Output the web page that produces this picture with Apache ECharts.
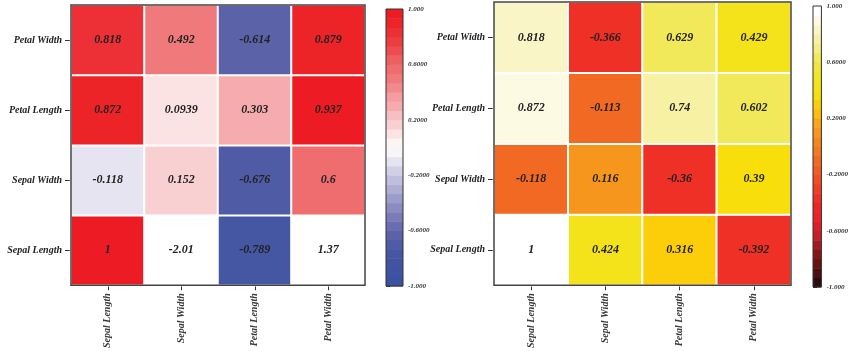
<!DOCTYPE html>
<html>
<head>
<meta charset="utf-8">
<script src="https://cdn.jsdelivr.net/npm/echarts@6/dist/echarts.min.js"></script>
<style>
  html, body { margin: 0; padding: 0; background: #fff; }
  #chart { width: 851px; height: 351px; }
</style>
</head>
<body>
<div id="chart"></div>
<script>
// Feature names (x: left to right, y: bottom to top)
const features = ['Sepal Length', 'Sepal Width', 'Petal Length', 'Petal Width'];

// Left matrix, one array per row
const leftSepalLength = [1, -2.01, -0.789, 1.37];
const leftSepalWidth  = [-0.118, 0.152, -0.676, 0.6];
const leftPetalLength = [0.872, 0.0939, 0.303, 0.937];
const leftPetalWidth  = [0.818, 0.492, -0.614, 0.879];

// Right matrix, one array per row
const rightSepalLength = [1, 0.424, 0.316, -0.392];
const rightSepalWidth  = [-0.118, 0.116, -0.36, 0.39];
const rightPetalLength = [0.872, -0.113, 0.74, 0.602];
const rightPetalWidth  = [0.818, -0.366, 0.629, 0.429];

// Colour bar range and tick labels
const barMin = -1, barMax = 1;
const barTicks = [-1, -0.6, -0.2, 0.2, 0.6, 1];
const barTickLabels = ['-1.000', '-0.6000', '-0.2000', '0.2000', '0.6000', '1.000'];

// Discrete colour maps (30 steps, from -1 up to 1)
const blueWhiteRed = ['#3b51a1','#3e53a1','#4254a1','#4557a2','#4f5ca5','#5b62a8','#6a6db0','#7a7cb9',
  '#8b8bc1','#9c9cca','#aeaed3','#bfbedc','#d1d0e6','#e6e4f0','#f6f6fa','#fdf4f4','#fbe3e4','#f9d0d2',
  '#f8bfc1','#f6acae','#f49c9e','#f28a8c','#f07a7b','#f06d6f','#ee5f61','#ed4d50','#ec3e41','#ec3035',
  '#ec2428','#ed1c24'];
const hotReversed = ['#2a0d0e','#4a0f10','#661112','#831619','#a11b21','#c21f26','#db1f26','#ec2026',
  '#ed2526','#ee3026','#ef3e26','#f04d25','#f15b24','#f26923','#f47a21','#f6871f','#f7961c','#f9a719',
  '#fcbc12','#fcce0a','#f8df0b','#f4e31a','#f2e526','#f1e63c','#f1e85a','#f4ed84','#f7f1a4','#f9f5c6',
  '#fdfae4','#ffffff'];

const FONT = "'Liberation Serif', 'DejaVu Serif', serif";

function toCells(rows) {
  const out = [];
  rows.forEach((row, y) => row.forEach((v, x) => out.push([x, y, v])));
  return out;
}
const leftCells = toCells([leftSepalLength, leftSepalWidth, leftPetalLength, leftPetalWidth]);
const rightCells = toCells([rightSepalLength, rightSepalWidth, rightPetalLength, rightPetalWidth]);

// Steps of the colour bar: [low, high, middle]
const steps = blueWhiteRed.length;
const stepSize = (barMax - barMin) / steps;
const barSteps = [];
for (let i = 0; i < steps; i++) {
  const lo = barMin + i * stepSize, hi = lo + stepSize;
  barSteps.push([lo, hi, (lo + hi) / 2]);
}

function pieces(colors) {
  return colors.map((c, i) => {
    const p = { gte: barMin + i * stepSize, color: c };
    if (i === colors.length - 1) p.lte = barMax; else p.lt = barMin + (i + 1) * stepSize;
    return p;
  });
}

function renderStep(params, api) {
  const a = api.coord([0, api.value(1)]);
  const b = api.coord([1, api.value(0)]);
  return {
    type: 'rect',
    shape: { x: a[0], y: a[1], width: b[0] - a[0], height: b[1] - a[1] + 0.5 },
    style: { fill: api.visual('color') }
  };
}

function heatGrid(left, top, width, height) {
  return { left, top, width, height, show: true, z: 10, borderColor: '#444', borderWidth: 1.5, backgroundColor: 'transparent' };
}
function barGrid(left, top, width, height) {
  return { left, top, width, height, show: true, z: 10, borderColor: '#333', borderWidth: 1, backgroundColor: 'transparent' };
}

function catX(gridIndex) {
  return {
    type: 'category', gridIndex, data: features,
    axisLine: { show: false },
    axisTick: { show: true, alignWithLabel: true, length: 5, lineStyle: { color: '#333' } },
    axisLabel: { rotate: 90, margin: 8, fontFamily: FONT, fontStyle: 'italic', fontWeight: 'bold', fontSize: 10, color: '#3a3a3a' },
    splitLine: { show: false }
  };
}
function catY(gridIndex) {
  return {
    type: 'category', gridIndex, data: features,
    axisLine: { show: false },
    axisTick: { show: true, alignWithLabel: true, length: 6, lineStyle: { color: '#333' } },
    axisLabel: { margin: 9, fontFamily: FONT, fontStyle: 'italic', fontWeight: 'bold', fontSize: 10, color: '#222' },
    splitLine: { show: false }
  };
}
function barX(gridIndex) {
  return { type: 'value', gridIndex, min: 0, max: 1, show: false };
}
function barY(gridIndex) {
  return {
    type: 'value', gridIndex, min: barMin, max: barMax, position: 'right',
    axisLine: { show: false },
    axisTick: { show: true, length: 4, lineStyle: { color: '#333' }, customValues: barTicks },
    axisLabel: {
      margin: 5, fontFamily: FONT, fontStyle: 'italic', fontWeight: 'bold', fontSize: 7, color: '#333',
      customValues: barTicks,
      formatter: v => {
        let k = 0;
        barTicks.forEach((t, i) => { if (Math.abs(t - v) < Math.abs(barTicks[k] - v)) k = i; });
        return barTickLabels[k];
      }
    },
    splitLine: { show: false }
  };
}

const cellLabel = {
  show: true, fontFamily: FONT, fontStyle: 'italic', fontWeight: 'bold', fontSize: 12, color: '#222',
  formatter: p => String(p.value[2])
};

const chart = echarts.init(document.getElementById('chart'), null, { renderer: 'canvas' });
chart.setOption({
  animation: false,
  backgroundColor: '#fff',
  grid: [
    heatGrid(71, 5, 294, 282),
    barGrid(386, 9, 17, 277),
    heatGrid(494, 2, 297, 285),
    barGrid(813, 6, 19, 281)
  ],
  xAxis: [catX(0), barX(1), catX(2), barX(3)],
  yAxis: [catY(0), barY(1), catY(2), barY(3)],
  visualMap: [
    { type: 'piecewise', show: false, seriesIndex: [0, 1], dimension: 2,
      pieces: pieces(blueWhiteRed), outOfRange: { color: '#ffffff' } },
    { type: 'piecewise', show: false, seriesIndex: [2, 3], dimension: 2,
      pieces: pieces(hotReversed), outOfRange: { color: '#ffffff' } }
  ],
  series: [
    { type: 'heatmap', xAxisIndex: 0, yAxisIndex: 0, data: leftCells, label: cellLabel,
      itemStyle: { borderColor: '#fff', borderWidth: 2 }, emphasis: { disabled: true } },
    { type: 'custom', xAxisIndex: 1, yAxisIndex: 1, data: barSteps, renderItem: renderStep,
      encode: { y: [0, 1] }, silent: true },
    { type: 'heatmap', xAxisIndex: 2, yAxisIndex: 2, data: rightCells, label: cellLabel,
      itemStyle: { borderColor: '#fff', borderWidth: 2 }, emphasis: { disabled: true } },
    { type: 'custom', xAxisIndex: 3, yAxisIndex: 3, data: barSteps, renderItem: renderStep,
      encode: { y: [0, 1] }, silent: true }
  ]
});
</script>
</body>
</html>
